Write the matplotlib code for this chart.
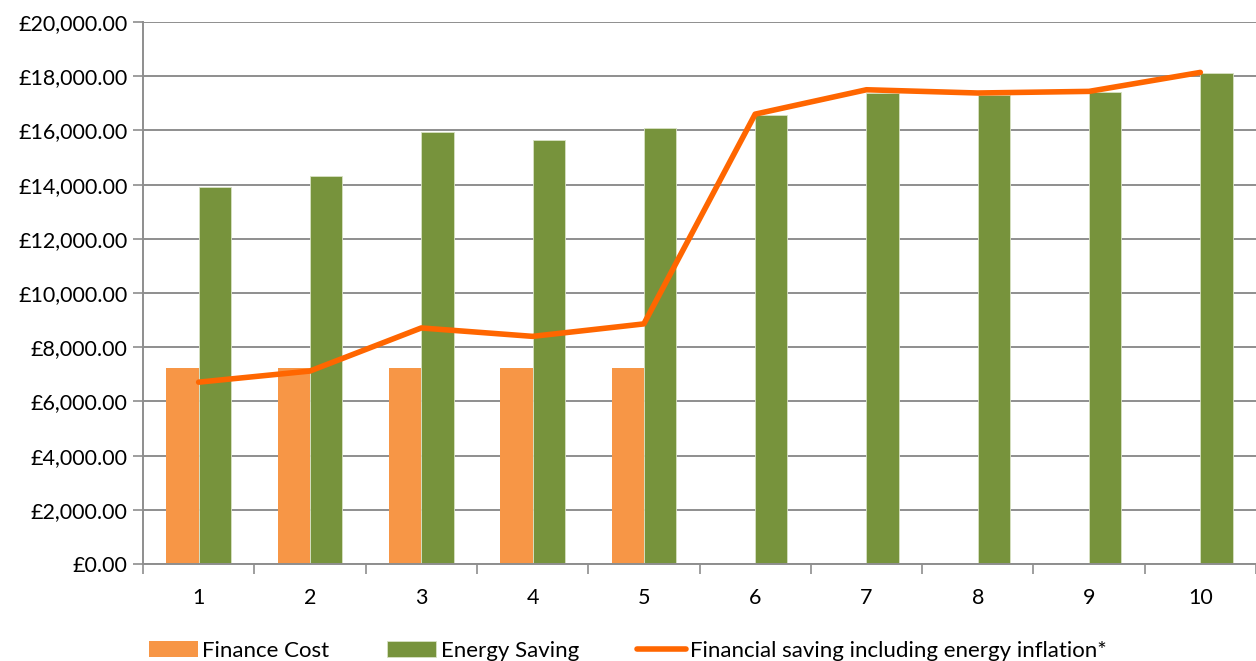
import numpy as np
import matplotlib
matplotlib.use("Agg")
import matplotlib.pyplot as plt
from matplotlib.ticker import FuncFormatter

# chart data
years = [1, 2, 3, 4, 5, 6, 7, 8, 9, 10]
finance_cost = [7250, 7250, 7250, 7250, 7250, 0, 0, 0, 0, 0]
energy_saving = [13920, 14310, 15930, 15640, 16080, 16550, 17390, 17290, 17400, 18110]
saving_with_inflation = [6710, 7120, 8710, 8400, 8860, 16600, 17500, 17380, 17440, 18140]

plt.rcParams["font.family"] = ["Lato", "DejaVu Sans"]

fig = plt.figure(figsize=(12.56, 6.61), dpi=100)
ax = fig.add_axes([143 / 1256, 97 / 661, 1 - 143 / 1256, 542 / 661])

x = np.array(years)
w = 0.29
b1 = ax.bar(x - w / 2, finance_cost, width=w, color="#F79646", label="Finance Cost", zorder=2)
b2 = ax.bar(x + w / 2, energy_saving, width=w, color="#77933C", label="Energy Saving",
            edgecolor="#d8e2c4", linewidth=0.6, zorder=2)
ln, = ax.plot(x, saving_with_inflation, color="#FF6600", linewidth=4, solid_capstyle="round",
              label="Financial saving including energy inflation*", zorder=3)

ax.set_xlim(0.5, 10.5)
ax.set_ylim(0, 20000)
ax.set_yticks(np.arange(0, 20001, 2000))
ax.yaxis.set_major_formatter(FuncFormatter(lambda v, p: "£{:,.2f}".format(v)))
ax.grid(axis="y", color="#8e8e8e", linewidth=1.4, zorder=0)
ax.set_axisbelow(True)

ax.set_xticks(np.arange(0.5, 10.6, 1))
ax.set_xticklabels([])
ax.set_xticks(x, minor=True)
ax.set_xticklabels([str(y) for y in years], minor=True)
ax.tick_params(axis="x", which="major", length=7, color="#8e8e8e", width=1.2)
ax.tick_params(axis="x", which="minor", length=0, pad=17, labelsize=15.5)
ax.tick_params(axis="y", length=7, color="#8e8e8e", width=1.2, labelsize=15.5, pad=4)

for s in ["top", "right"]:
    ax.spines[s].set_visible(False)
for s in ["left", "bottom"]:
    ax.spines[s].set_color("#8e8e8e")
    ax.spines[s].set_linewidth(1.4)

fig.legend(handles=[b1, b2, ln], loc="lower center", bbox_to_anchor=(0.5, -0.03), ncol=3,
           frameon=False, fontsize=16, handlelength=2.2, handleheight=0.7,
           columnspacing=2.6, handletextpad=0.2)

fig.savefig("out.png", dpi=100)
